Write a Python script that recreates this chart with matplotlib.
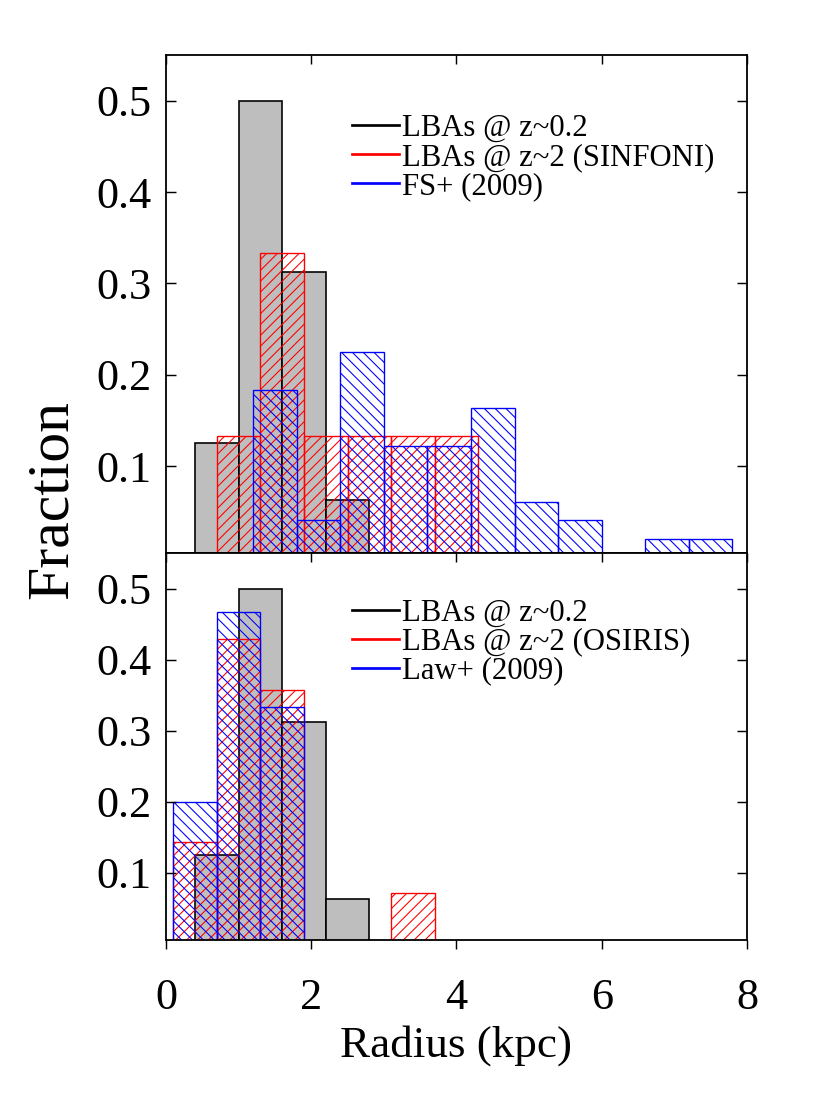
import numpy as np
import matplotlib
matplotlib.use("Agg")
import matplotlib.pyplot as plt
from matplotlib.lines import Line2D

# bin edges (kpc) and fraction per bin
lba_edges = [0.4, 1.0, 1.6, 2.2, 2.8]
lba_frac = [0.125, 0.5, 0.3125, 0.0625]

sinfoni_edges = [0.7, 1.3, 1.9, 2.5, 3.1, 3.7, 4.3]
sinfoni_frac = [0.1333, 0.3333, 0.1333, 0.1333, 0.1333, 0.1333]

fs_edges = [1.2, 1.8, 2.4, 3.0, 3.6, 4.2, 4.8, 5.4, 6.0, 6.6, 7.2, 7.8]
fs_frac = [0.1837, 0.0408, 0.2245, 0.1224, 0.1224, 0.1633, 0.0612, 0.0408, 0.0, 0.0204, 0.0204]

osiris_edges = [0.1, 0.7, 1.3, 1.9, 2.5, 3.1, 3.7]
osiris_frac = [0.1429, 0.4286, 0.3571, 0.0, 0.0, 0.0714]

law_edges = [0.1, 0.7, 1.3, 1.9]
law_frac = [0.2, 0.4667, 0.3333]

top_labels = ['LBAs @ z~0.2', 'LBAs @ z~2 (SINFONI)', 'FS+ (2009)']
bot_labels = ['LBAs @ z~0.2', 'LBAs @ z~2 (OSIRIS)', 'Law+ (2009)']

yticks = [0.1, 0.2, 0.3, 0.4, 0.5]
xticks = [0, 2, 4, 6, 8]

plt.rcParams['font.family'] = ['Liberation Serif', 'DejaVu Serif']
plt.rcParams['hatch.linewidth'] = 0.6

DPI = 130
fig = plt.figure(figsize=(830 / DPI, 1107 / DPI), dpi=DPI)
ax1 = fig.add_axes([166 / 830, 1 - 553 / 1107, 581 / 830, 498 / 1107])
ax2 = fig.add_axes([166 / 830, 1 - 940 / 1107, 581 / 830, 387 / 1107])


def draw_hist(ax, edges, frac, **kw):
    edges = np.asarray(edges)
    ax.bar(edges[:-1], frac, width=np.diff(edges), align='edge', **kw)


def style_axis(ax, bottom_panel):
    ax.set_xlim(0, 8)
    ax.set_ylim(0.005, 0.55)
    for s in ax.spines.values():
        s.set_linewidth(1.0)
    ax.set_yticks(yticks)
    ax.set_yticklabels(['%.1f' % v for v in yticks])
    ax.tick_params(axis='y', direction='in', left=True, right=True,
                   length=5.5, width=0.8, labelsize=24.5, pad=8)
    ax.set_xticks(xticks)
    if bottom_panel:
        ax.tick_params(axis='x', direction='out', bottom=True, top=False,
                       length=5, width=0.8, labelsize=24.5, pad=16)
        sec = ax.secondary_xaxis('top')
        sec.set_xticks(xticks)
        sec.tick_params(axis='x', direction='in', length=5, width=0.8,
                        labeltop=False)
        sec.spines['top'].set_visible(False)
    else:
        ax.tick_params(axis='x', direction='in', bottom=False, top=True,
                       labelbottom=False, length=5, width=0.8)


def add_legend(ax, labels):
    handles = [Line2D([], [], color=c, lw=1.5) for c in ['black', 'red', 'blue']]
    ax.legend(handles, labels, loc='upper left', bbox_to_anchor=(0.32, 0.882),
              frameon=False, fontsize=17, handlelength=1.54, handletextpad=0.1,
              labelspacing=0.0, borderpad=0, borderaxespad=0)


# top panel
draw_hist(ax1, lba_edges, lba_frac, facecolor='#bebebe', edgecolor='black', linewidth=0.9)
draw_hist(ax1, sinfoni_edges, sinfoni_frac, facecolor='none', edgecolor='red', hatch='////', linewidth=0.75)
draw_hist(ax1, fs_edges, fs_frac, facecolor='none', edgecolor='blue', hatch='\\\\\\\\', linewidth=0.75)
style_axis(ax1, False)
add_legend(ax1, top_labels)

# bottom panel
draw_hist(ax2, lba_edges, lba_frac, facecolor='#bebebe', edgecolor='black', linewidth=0.9)
draw_hist(ax2, osiris_edges, osiris_frac, facecolor='none', edgecolor='red', hatch='////', linewidth=0.75)
draw_hist(ax2, law_edges, law_frac, facecolor='none', edgecolor='blue', hatch='\\\\\\\\', linewidth=0.75)
style_axis(ax2, True)
add_legend(ax2, bot_labels)
ax2.set_xlabel('Radius (kpc)', fontsize=25, labelpad=4)

fig.text(53 / 830, 1 - 500 / 1107, 'Fraction', rotation=90, fontsize=33,
         ha='center', va='center')

fig.savefig('out.png', dpi=DPI)
